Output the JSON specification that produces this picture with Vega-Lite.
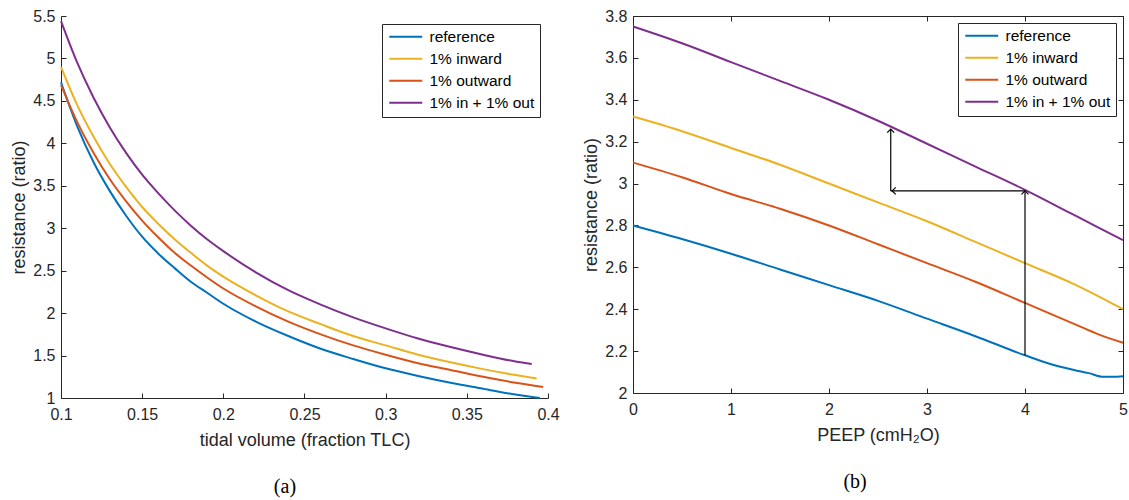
{
  "$schema": "https://vega.github.io/schema/vega-lite/v6.json",
  "padding": {"left": 10, "top": 8, "right": 3, "bottom": 3},
  "spacing": 22,
  "config": {
    "font": "Liberation Sans",
    "view": {"stroke": null},
    "axis": {
      "grid": false,
      "domainColor": "#262626",
      "tickColor": "#262626",
      "labelColor": "#262626",
      "titleColor": "#262626",
      "labelFont": "Liberation Sans",
      "titleFont": "Liberation Sans",
      "labelFontSize": 16,
      "titleFontSize": 18,
      "titleFontWeight": "normal",
      "tickSize": -5,
      "labelPadding": 11,
      "domainWidth": 1,
      "tickWidth": 1,
      "labelFlush": false,
      "labelOverlap": false
    },
    "legend": {
      "orient": "top-right",
      "offset": 8,
      "strokeColor": "#262626",
      "fillColor": "white",
      "padding": 5,
      "labelFont": "Liberation Sans",
      "labelFontSize": 15.5,
      "labelColor": "#000000",
      "symbolType": "M-3,0L3,0",
      "symbolSize": 121,
      "symbolOffset": 11,
      "symbolStrokeWidth": 2,
      "rowPadding": 5,
      "labelOffset": 16,
      "title": null
    }
  },
  "datasets": {
    "a": [
      {"s": "reference", "x": 0.1, "y": 4.72}, {"s": "reference", "x": 0.11, "y": 4.2}, {"s": "reference", "x": 0.12, "y": 3.78}, {"s": "reference", "x": 0.13, "y": 3.44}, {"s": "reference", "x": 0.14, "y": 3.15}, {"s": "reference", "x": 0.15, "y": 2.9}, {"s": "reference", "x": 0.16, "y": 2.7}, {"s": "reference", "x": 0.17, "y": 2.53}, {"s": "reference", "x": 0.18, "y": 2.37}, {"s": "reference", "x": 0.19, "y": 2.24}, {"s": "reference", "x": 0.2, "y": 2.11}, {"s": "reference", "x": 0.22, "y": 1.9}, {"s": "reference", "x": 0.24, "y": 1.73}, {"s": "reference", "x": 0.26, "y": 1.58}, {"s": "reference", "x": 0.28, "y": 1.46}, {"s": "reference", "x": 0.3, "y": 1.35}, {"s": "reference", "x": 0.32, "y": 1.26}, {"s": "reference", "x": 0.34, "y": 1.18}, {"s": "reference", "x": 0.36, "y": 1.11}, {"s": "reference", "x": 0.38, "y": 1.04}, {"s": "reference", "x": 0.395, "y": 1.0},
      {"s": "1% inward", "x": 0.1, "y": 4.9}, {"s": "1% inward", "x": 0.11, "y": 4.45}, {"s": "1% inward", "x": 0.12, "y": 4.08}, {"s": "1% inward", "x": 0.13, "y": 3.76}, {"s": "1% inward", "x": 0.14, "y": 3.49}, {"s": "1% inward", "x": 0.15, "y": 3.25}, {"s": "1% inward", "x": 0.16, "y": 3.05}, {"s": "1% inward", "x": 0.17, "y": 2.87}, {"s": "1% inward", "x": 0.18, "y": 2.71}, {"s": "1% inward", "x": 0.19, "y": 2.56}, {"s": "1% inward", "x": 0.2, "y": 2.43}, {"s": "1% inward", "x": 0.22, "y": 2.21}, {"s": "1% inward", "x": 0.24, "y": 2.02}, {"s": "1% inward", "x": 0.26, "y": 1.87}, {"s": "1% inward", "x": 0.28, "y": 1.73}, {"s": "1% inward", "x": 0.3, "y": 1.62}, {"s": "1% inward", "x": 0.32, "y": 1.51}, {"s": "1% inward", "x": 0.34, "y": 1.42}, {"s": "1% inward", "x": 0.36, "y": 1.34}, {"s": "1% inward", "x": 0.38, "y": 1.27}, {"s": "1% inward", "x": 0.393, "y": 1.23},
      {"s": "1% outward", "x": 0.1, "y": 4.69}, {"s": "1% outward", "x": 0.11, "y": 4.25}, {"s": "1% outward", "x": 0.12, "y": 3.89}, {"s": "1% outward", "x": 0.13, "y": 3.58}, {"s": "1% outward", "x": 0.14, "y": 3.32}, {"s": "1% outward", "x": 0.15, "y": 3.09}, {"s": "1% outward", "x": 0.16, "y": 2.89}, {"s": "1% outward", "x": 0.17, "y": 2.71}, {"s": "1% outward", "x": 0.18, "y": 2.56}, {"s": "1% outward", "x": 0.19, "y": 2.42}, {"s": "1% outward", "x": 0.2, "y": 2.29}, {"s": "1% outward", "x": 0.22, "y": 2.08}, {"s": "1% outward", "x": 0.24, "y": 1.9}, {"s": "1% outward", "x": 0.26, "y": 1.75}, {"s": "1% outward", "x": 0.28, "y": 1.62}, {"s": "1% outward", "x": 0.3, "y": 1.51}, {"s": "1% outward", "x": 0.32, "y": 1.41}, {"s": "1% outward", "x": 0.34, "y": 1.33}, {"s": "1% outward", "x": 0.36, "y": 1.25}, {"s": "1% outward", "x": 0.38, "y": 1.18}, {"s": "1% outward", "x": 0.397, "y": 1.13},
      {"s": "1% in + 1% out", "x": 0.1, "y": 5.44}, {"s": "1% in + 1% out", "x": 0.11, "y": 4.95}, {"s": "1% in + 1% out", "x": 0.12, "y": 4.54}, {"s": "1% in + 1% out", "x": 0.13, "y": 4.19}, {"s": "1% in + 1% out", "x": 0.14, "y": 3.89}, {"s": "1% in + 1% out", "x": 0.15, "y": 3.63}, {"s": "1% in + 1% out", "x": 0.16, "y": 3.41}, {"s": "1% in + 1% out", "x": 0.17, "y": 3.21}, {"s": "1% in + 1% out", "x": 0.18, "y": 3.03}, {"s": "1% in + 1% out", "x": 0.19, "y": 2.87}, {"s": "1% in + 1% out", "x": 0.2, "y": 2.73}, {"s": "1% in + 1% out", "x": 0.22, "y": 2.48}, {"s": "1% in + 1% out", "x": 0.24, "y": 2.27}, {"s": "1% in + 1% out", "x": 0.26, "y": 2.1}, {"s": "1% in + 1% out", "x": 0.28, "y": 1.95}, {"s": "1% in + 1% out", "x": 0.3, "y": 1.82}, {"s": "1% in + 1% out", "x": 0.32, "y": 1.7}, {"s": "1% in + 1% out", "x": 0.34, "y": 1.6}, {"s": "1% in + 1% out", "x": 0.36, "y": 1.51}, {"s": "1% in + 1% out", "x": 0.38, "y": 1.43}, {"s": "1% in + 1% out", "x": 0.39, "y": 1.4}
    ],
    "b": [
      {"s": "reference", "x": 0, "y": 2.8}, {"s": "reference", "x": 0.5, "y": 2.735}, {"s": "reference", "x": 1, "y": 2.665}, {"s": "reference", "x": 1.5, "y": 2.59}, {"s": "reference", "x": 2, "y": 2.515}, {"s": "reference", "x": 2.5, "y": 2.44}, {"s": "reference", "x": 3, "y": 2.355}, {"s": "reference", "x": 3.5, "y": 2.27}, {"s": "reference", "x": 4, "y": 2.18}, {"s": "reference", "x": 4.25, "y": 2.14}, {"s": "reference", "x": 4.5, "y": 2.11}, {"s": "reference", "x": 4.65, "y": 2.095}, {"s": "reference", "x": 4.8, "y": 2.077}, {"s": "reference", "x": 4.9, "y": 2.077}, {"s": "reference", "x": 5, "y": 2.08},
      {"s": "1% inward", "x": 0, "y": 3.32}, {"s": "1% inward", "x": 0.5, "y": 3.25}, {"s": "1% inward", "x": 1, "y": 3.17}, {"s": "1% inward", "x": 1.5, "y": 3.09}, {"s": "1% inward", "x": 2, "y": 3.0}, {"s": "1% inward", "x": 2.5, "y": 2.91}, {"s": "1% inward", "x": 3, "y": 2.82}, {"s": "1% inward", "x": 3.5, "y": 2.72}, {"s": "1% inward", "x": 4, "y": 2.62}, {"s": "1% inward", "x": 4.5, "y": 2.52}, {"s": "1% inward", "x": 5, "y": 2.4},
      {"s": "1% outward", "x": 0, "y": 3.1}, {"s": "1% outward", "x": 0.5, "y": 3.03}, {"s": "1% outward", "x": 1, "y": 2.95}, {"s": "1% outward", "x": 1.5, "y": 2.88}, {"s": "1% outward", "x": 2, "y": 2.8}, {"s": "1% outward", "x": 2.5, "y": 2.71}, {"s": "1% outward", "x": 3, "y": 2.62}, {"s": "1% outward", "x": 3.5, "y": 2.53}, {"s": "1% outward", "x": 4, "y": 2.43}, {"s": "1% outward", "x": 4.5, "y": 2.33}, {"s": "1% outward", "x": 4.75, "y": 2.28}, {"s": "1% outward", "x": 5, "y": 2.24},
      {"s": "1% in + 1% out", "x": 0, "y": 3.75}, {"s": "1% in + 1% out", "x": 0.5, "y": 3.67}, {"s": "1% in + 1% out", "x": 1, "y": 3.58}, {"s": "1% in + 1% out", "x": 1.5, "y": 3.49}, {"s": "1% in + 1% out", "x": 2, "y": 3.4}, {"s": "1% in + 1% out", "x": 2.5, "y": 3.3}, {"s": "1% in + 1% out", "x": 3, "y": 3.19}, {"s": "1% in + 1% out", "x": 3.5, "y": 3.08}, {"s": "1% in + 1% out", "x": 4, "y": 2.97}, {"s": "1% in + 1% out", "x": 4.5, "y": 2.85}, {"s": "1% in + 1% out", "x": 5, "y": 2.73}
    ],
    "arrows": [
      {"x": 4, "y": 2.18, "x2": 4, "y2": 2.965},
      {"x": 4, "y": 2.965, "x2": 2.63, "y2": 2.965},
      {"x": 2.63, "y": 2.965, "x2": 2.63, "y2": 3.26}
    ],
    "heads": [
      {"x": 4, "y": 2.965, "dir": "up"},
      {"x": 2.645, "y": 2.965, "dir": "left"},
      {"x": 2.63, "y": 3.26, "dir": "up"}
    ]
  },
  "hconcat": [
    {
      "width": 487,
      "height": 382,
      "data": {"name": "a"},
      "mark": {"type": "line", "interpolate": "monotone", "strokeWidth": 2},
      "encoding": {
        "x": {"field": "x", "type": "quantitative", "scale": {"domain": [0.1, 0.4], "nice": false, "zero": false},
          "axis": {"values": [0.1, 0.15, 0.2, 0.25, 0.3, 0.35, 0.4], "format": "~g", "title": "tidal volume (fraction TLC)", "labelPadding": 13, "titlePadding": 9}},
        "y": {"field": "y", "type": "quantitative", "scale": {"domain": [1, 5.5], "nice": false, "zero": false},
          "axis": {"values": [1, 1.5, 2, 2.5, 3, 3.5, 4, 4.5, 5, 5.5], "format": "~g", "title": "resistance (ratio)", "titlePadding": 4}},
        "color": {"field": "s", "type": "nominal",
          "scale": {"domain": ["reference", "1% inward", "1% outward", "1% in + 1% out"], "range": ["#0072BD", "#EDB120", "#D95319", "#7E2F8E"]},
          "legend": {"orient": "top-right", "offset": 8}}
      },
      "title": {"text": "(a)", "orient": "bottom", "frame": "bounds", "anchor": "middle", "font": "Liberation Serif", "fontSize": 20, "fontWeight": "normal", "color": "#000000", "offset": 28}
    },
    {
      "width": 490,
      "height": 377,
      "layer": [
        {
          "data": {"name": "b"},
          "mark": {"type": "line", "interpolate": "monotone", "strokeWidth": 2},
          "encoding": {
            "x": {"field": "x", "type": "quantitative", "scale": {"domain": [0, 5], "nice": false, "zero": false},
              "axis": {"orient": "bottom", "values": [0, 1, 2, 3, 4, 5], "format": "~g", "title": "PEEP (cmH₂O)", "labelPadding": 13, "titlePadding": 9}},
            "y": {"field": "y", "type": "quantitative", "scale": {"domain": [2, 3.8], "nice": false, "zero": false},
              "axis": {"orient": "left", "values": [2, 2.2, 2.4, 2.6, 2.8, 3, 3.2, 3.4, 3.6, 3.8], "format": "~g", "title": "resistance (ratio)", "titlePadding": 4}},
            "color": {"field": "s", "type": "nominal",
              "scale": {"domain": ["reference", "1% inward", "1% outward", "1% in + 1% out"], "range": ["#0072BD", "#EDB120", "#D95319", "#7E2F8E"]},
              "legend": {"orient": "top-right", "offset": 7}}
          }
        },
        {
          "data": {"name": "arrows"},
          "mark": {"type": "rule", "color": "#000000", "strokeWidth": 1.2},
          "encoding": {
            "x": {"field": "x", "type": "quantitative",
              "axis": {"orient": "top", "values": [0, 1, 2, 3, 4, 5], "labels": false, "title": null}},
            "x2": {"field": "x2"},
            "y": {"field": "y", "type": "quantitative",
              "axis": {"orient": "right", "values": [2, 2.2, 2.4, 2.6, 2.8, 3, 3.2, 3.4, 3.6, 3.8], "labels": false, "title": null}},
            "y2": {"field": "y2"}
          }
        },
        {
          "data": {"name": "heads"},
          "mark": {"type": "point", "filled": false, "color": "#000000", "strokeWidth": 1.2, "size": 49, "opacity": 1},
          "encoding": {
            "x": {"field": "x", "type": "quantitative", "axis": null},
            "y": {"field": "y", "type": "quantitative", "axis": null},
            "shape": {"field": "dir", "type": "nominal", "scale": {"domain": ["up", "left"], "range": ["M-1,1L0,0L1,1", "M1,-1L0,0L1,1"]}, "legend": null}
          }
        }
      ],
      "resolve": {"axis": {"x": "independent", "y": "independent"}},
      "title": {"text": "(b)", "orient": "bottom", "frame": "bounds", "anchor": "middle", "font": "Liberation Serif", "fontSize": 20, "fontWeight": "normal", "color": "#000000", "offset": 28}
    }
  ],
  "resolve": {"legend": {"color": "independent"}}
}
